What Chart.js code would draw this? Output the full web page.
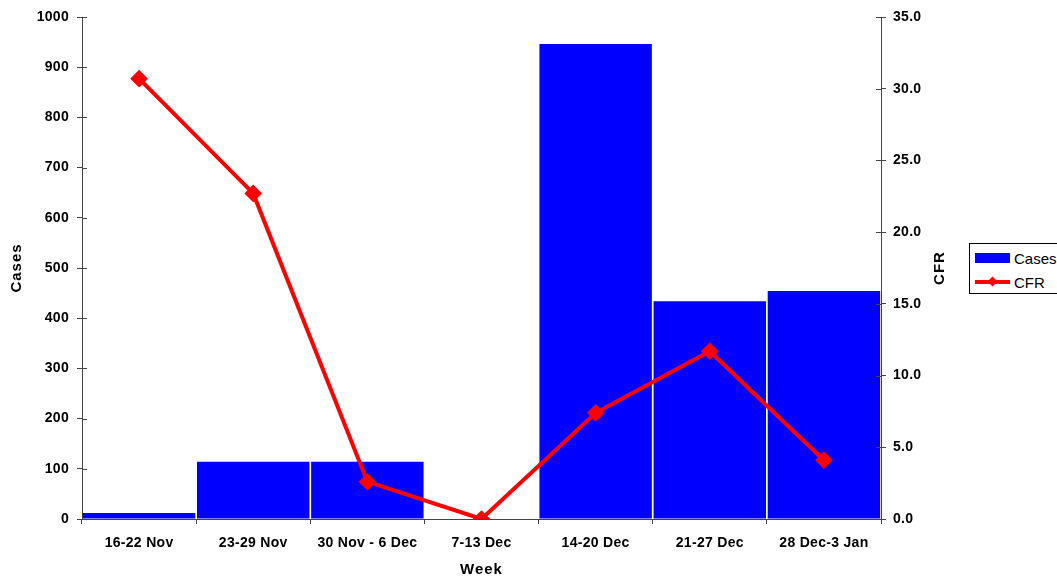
<!DOCTYPE html>
<html>
<head>
<meta charset="utf-8">
<script src="https://cdn.jsdelivr.net/npm/chart.js@4.4.1/dist/chart.umd.min.js"></script>
<style>
  html, body { margin: 0; padding: 0; background: #fff; overflow: hidden; }
  #wrap { position: relative; width: 1057px; height: 578px; }
  #legend {
    position: absolute; left: 969px; top: 243px; width: 110px; height: 51px;
    border: 1px solid #000; background: #fff; box-sizing: border-box;
    font-family: "Liberation Sans", Arial, sans-serif; font-size: 15px; color: #000;
  }
  .row { position: absolute; left: 5px; height: 16px; display: flex; align-items: center; white-space: nowrap; }
  .swatch { width: 35px; height: 10px; background: #0000ff; margin-right: 4px; }
  .lineKey { position: relative; width: 35px; height: 10px; margin-right: 4px; }
  .lineKey .ln { position: absolute; left: 0; right: 0; top: 3px; height: 4px; background: #ff0000; }
  .lineKey .dm { position: absolute; left: 14px; top: 1px; width: 7px; height: 7px; background: #ff0000; transform: rotate(45deg); }
</style>
</head>
<body>
<div id="wrap">
  <canvas id="c" width="1057" height="578"></canvas>
  <div id="legend">
    <div class="row" style="top:6px"><div class="swatch"></div><span>Cases</span></div>
    <div class="row" style="top:30px"><div class="lineKey"><div class="ln"></div><div class="dm"></div></div><span>CFR</span></div>
  </div>
</div>
<script>
// Weekly cases and case fatality rate
const weeks = ["16-22 Nov", "23-29 Nov", "30 Nov - 6 Dec", "7-13 Dec", "14-20 Dec", "21-27 Dec", "28 Dec-3 Jan"];
const cases = [12, 114, 114, 0, 946, 434, 454];
const cfr = [30.7, 22.7, 2.6, 0, 7.4, 11.7, 4.1];
const casesTicks = [0, 100, 200, 300, 400, 500, 600, 700, 800, 900, 1000];
const cfrTicks = [0, 5, 10, 15, 20, 25, 30, 35];

const FONT = '"Liberation Sans", Arial, sans-serif';
const AXIS_COLOR = '#444';

// Slightly wider lettering for all canvas text
const spacing = {
  id: 'spacing',
  beforeDraw(chart) { chart.ctx.letterSpacing = '0.3px'; }
};

// Axis titles and tick marks that cross the vertical axes
const decorations = {
  id: 'decorations',
  afterDraw(chart) {
    const ctx = chart.ctx;
    const a = chart.chartArea;
    const yL = chart.scales.y, yR = chart.scales.y2;
    ctx.save();
    ctx.strokeStyle = AXIS_COLOR;
    ctx.lineWidth = 1;
    ctx.beginPath();
    casesTicks.forEach(v => { const p = Math.round(yL.getPixelForValue(v)) + 0.5; ctx.moveTo(a.left, p); ctx.lineTo(a.left + 5, p); });
    cfrTicks.forEach(v => { const p = Math.round(yR.getPixelForValue(v)) + 0.5; ctx.moveTo(a.right - 5, p); ctx.lineTo(a.right, p); });
    ctx.stroke();

    ctx.fillStyle = '#000';
    ctx.letterSpacing = '1px';
    ctx.font = 'bold 15px ' + FONT;
    ctx.textAlign = 'center';
    ctx.textBaseline = 'middle';
    ctx.fillText('Week', (a.left + a.right) / 2, 570);
    const midY = (a.top + a.bottom) / 2;
    ctx.translate(17, midY); ctx.rotate(-Math.PI / 2); ctx.fillText('Cases', 0, 0);
    ctx.setTransform(1, 0, 0, 1, 0, 0);
    ctx.translate(940, midY); ctx.rotate(-Math.PI / 2); ctx.fillText('CFR', 0, 0);
    ctx.restore();
  }
};

new Chart(document.getElementById('c'), {
  data: {
    labels: weeks,
    datasets: [
      {
        type: 'line', label: 'CFR', data: cfr, yAxisID: 'y2', order: 0,
        borderColor: '#ff0000', backgroundColor: '#ff0000', borderWidth: 4,
        pointStyle: 'rectRot', pointRadius: 6, pointHoverRadius: 6, tension: 0
      },
      {
        type: 'bar', label: 'Cases', data: cases, yAxisID: 'y', order: 1,
        backgroundColor: '#0000ff', categoryPercentage: 1, barPercentage: 0.985
      }
    ]
  },
  options: {
    responsive: false, animation: false,
    layout: { padding: { top: 17, left: 0, right: 0, bottom: 0 } },
    plugins: { legend: { display: false }, tooltip: { enabled: false } },
    scales: {
      x: {
        offset: true,
        grid: { display: true, drawOnChartArea: false, offset: true, tickLength: 5, color: AXIS_COLOR },
        border: { color: AXIS_COLOR, width: 1 },
        ticks: { color: '#000', font: { family: FONT, size: 14, weight: 'bold' }, padding: 11, maxRotation: 0 },
        afterFit(s) { s.height = 59; }
      },
      y: {
        position: 'left', min: 0, max: 1000,
        afterBuildTicks(s) { s.ticks = casesTicks.map(v => ({ value: v })); },
        grid: { drawOnChartArea: false, tickLength: 5, color: AXIS_COLOR },
        border: { color: AXIS_COLOR, width: 1 },
        ticks: { color: '#000', font: { family: FONT, size: 14, weight: 'bold' }, padding: 8, callback: v => String(v) },
        afterFit(s) { s.width = 82; }
      },
      y2: {
        position: 'right', min: 0, max: 35,
        afterBuildTicks(s) { s.ticks = cfrTicks.map(v => ({ value: v })); },
        grid: { drawOnChartArea: false, tickLength: 5, color: AXIS_COLOR },
        border: { color: AXIS_COLOR, width: 1 },
        ticks: { color: '#000', font: { family: FONT, size: 14, weight: 'bold' }, padding: 7, callback: v => Number(v).toFixed(1) },
        afterFit(s) { s.width = 176; }
      }
    }
  },
  plugins: [spacing, decorations]
});
</script>
</body>
</html>
